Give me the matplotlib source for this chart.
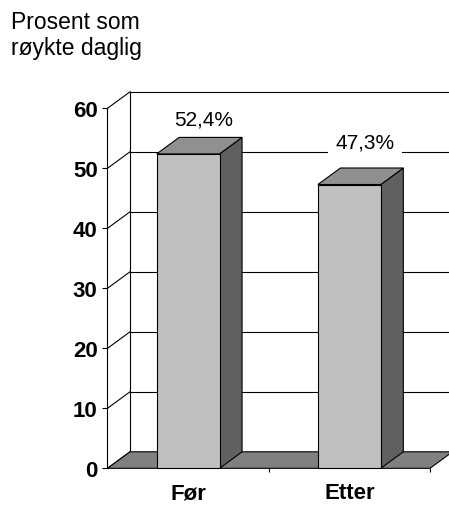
import matplotlib
matplotlib.use("Agg")
import matplotlib.pyplot as plt
from matplotlib.patches import Polygon, Rectangle

plt.rcParams['font.family'] = ['Liberation Sans', 'DejaVu Sans']

# data
categories = ['Før', 'Etter']
values = [52.4, 47.3]
value_labels = ['52,4%', '47,3%']
y_ticks = [0, 10, 20, 30, 40, 50, 60]
y_title = 'Prosent som\nrøykte daglig'

# look of the fake 3d chart
front_col = '#c0c0c0'
side_col = '#606060'
top_col = '#909090'
floor_col = '#808080'
bar_w = 0.39
ddx = 0.1395   # depth offset, x (category units)
ddy = 2.75     # depth offset, y (value units)
label_dy = [35, 43]  # label height above front top, px

fig = plt.figure(figsize=(4.49, 5.06), dpi=100)
ax = fig.add_axes([0.2394, 0.0725, 0.7183, 0.7115])
ax.set_xlim(-0.5, 1.5)
ax.set_ylim(0, 60)

lw = 0.8
# back wall grid + left wall depth lines
for v in y_ticks:
    if v > 0:
        ax.plot([-0.5 + ddx, 1.5 + ddx], [v + ddy, v + ddy], color='black',
                lw=lw, clip_on=False, zorder=1)
    ax.plot([-0.5, -0.5 + ddx], [v, v + ddy], color='black', lw=lw,
            clip_on=False, zorder=1)
ax.plot([-0.5 + ddx, -0.5 + ddx], [ddy, 60 + ddy], color='black', lw=lw,
        clip_on=False, zorder=1)

# floor
floor = Polygon([(-0.5, 0), (1.5, 0), (1.5 + ddx, ddy), (-0.5 + ddx, ddy)],
                closed=True, facecolor=floor_col, edgecolor='black', lw=lw,
                clip_on=False, zorder=2)
ax.add_patch(floor)

# bars
for i, v in enumerate(values):
    x0 = i - bar_w / 2
    x1 = i + bar_w / 2
    side = Polygon([(x1, 0), (x1 + ddx, ddy), (x1 + ddx, v + ddy), (x1, v)],
                   closed=True, facecolor=side_col, edgecolor='black', lw=lw,
                   clip_on=False, zorder=3)
    top = Polygon([(x0, v), (x1, v), (x1 + ddx, v + ddy), (x0 + ddx, v + ddy)],
                  closed=True, facecolor=top_col, edgecolor='black', lw=lw,
                  clip_on=False, zorder=3)
    front = Rectangle((x0, 0), bar_w, v, facecolor=front_col,
                      edgecolor='black', lw=lw, clip_on=False, zorder=4)
    ax.add_patch(side)
    ax.add_patch(top)
    ax.add_patch(front)
    ax.annotate(value_labels[i], xy=(i, v),
                xytext=(15.5 * 0.72, label_dy[i] * 0.72),
                textcoords='offset points', ha='center', va='center',
                fontsize=15, zorder=6,
                bbox=dict(boxstyle='square,pad=0.35', facecolor='white',
                          edgecolor='none'))

# axes
for s in ['top', 'right', 'bottom']:
    ax.spines[s].set_visible(False)
ax.spines['left'].set_linewidth(lw)
ax.spines['left'].set_zorder(5)
ax.set_yticks(y_ticks)
ax.set_yticklabels([str(t) for t in y_ticks], fontsize=16, fontweight='bold')
ax.tick_params(axis='y', direction='out', length=3.6, width=lw, pad=3.5)

ax.set_xticks([0, 1])
ax.set_xticklabels(categories, fontsize=16, fontweight='bold')
ax.set_xticks([0.5, 1.5], minor=True)
ax.tick_params(axis='x', which='major', length=0, pad=10)
ax.tick_params(axis='x', which='minor', direction='out', length=3, width=lw)

fig.text(11 / 449, 1 - 10.7 / 506, y_title, ha='left', va='top',
         fontsize=16.5, linespacing=1.2)

fig.savefig('out.png', dpi=100)
